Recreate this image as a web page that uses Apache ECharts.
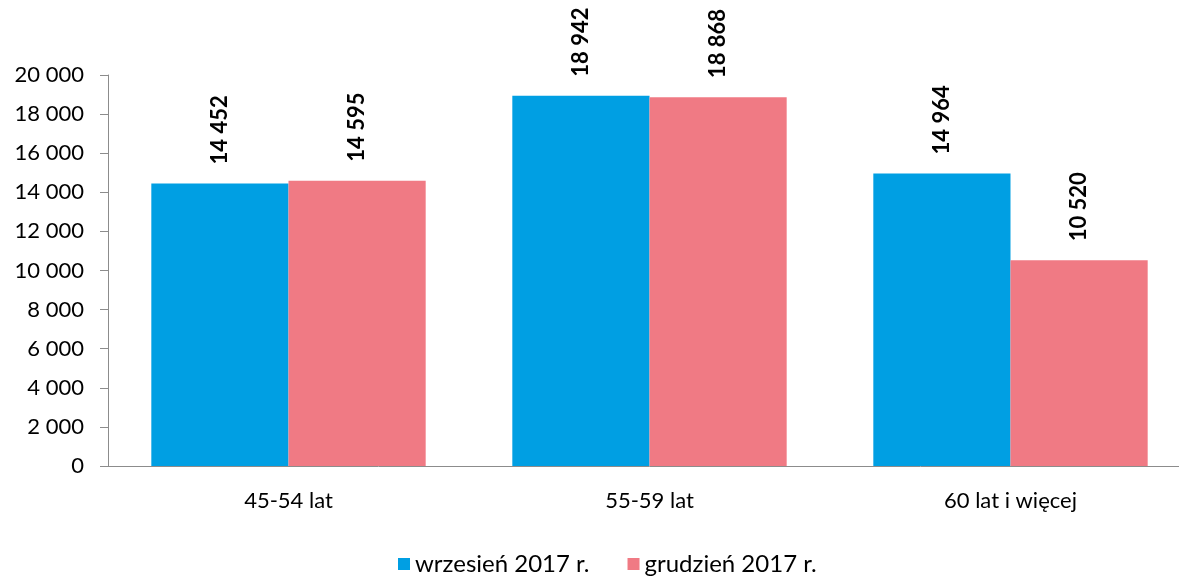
<!DOCTYPE html>
<html>
<head>
<meta charset="utf-8">
<script src="https://cdn.jsdelivr.net/npm/echarts@6/dist/echarts.min.js"></script>
<style>
  html, body { margin: 0; padding: 0; background: #fff; overflow: hidden; }
  /* plot area runs past the right edge of the window, as in the source */
  #chart { width: 1191px; height: 576px; }
</style>
</head>
<body>
<div id="chart"></div>
<script>
var categories = ["45-54 lat", "55-59 lat", "60 lat i więcej"];
var seriesNames = ["wrzesień 2017 r.", "grudzień 2017 r."];
var wrzesien = [14452, 18942, 14964];
var grudzien = [14595, 18868, 10520];

function fmt(v) {
  return String(v).replace(/\B(?=(\d{3})+(?!\d))/g, " ");
}

var chart = echarts.init(document.getElementById("chart"));

var labelStyle = {
  show: true,
  position: "top",
  rotate: 90,
  align: "left",
  verticalAlign: "middle",
  distance: 19,
  color: "#000",
  fontWeight: "bold",
  fontSize: 22,
  fontFamily: "Lato",
  formatter: function (p) { return fmt(p.value); }
};

var option = {
  animation: false,
  textStyle: { fontFamily: "Lato" },
  grid: { left: 108, right: 0, top: 75, bottom: 110 },
  legend: {
    left: 398,
    top: 552,
    padding: 0,
    itemWidth: 12,
    itemHeight: 12,
    itemGap: 38,
    icon: "rect",
    textStyle: { fontSize: 24, color: "#000", fontFamily: "Lato" },
    data: seriesNames
  },
  xAxis: {
    type: "category",
    data: categories,
    axisLine: { lineStyle: { color: "#8c8c8c" } },
    axisTick: { length: 7, lineStyle: { color: "#8c8c8c" } },
    axisLabel: { fontSize: 22, color: "#000", margin: 24 }
  },
  yAxis: {
    type: "value",
    min: 0,
    max: 20000,
    interval: 2000,
    splitLine: { show: false },
    axisLine: { show: true, lineStyle: { color: "#8c8c8c" } },
    axisTick: { show: true, length: 8, lineStyle: { color: "#8c8c8c" } },
    axisLabel: { fontSize: 22, color: "#000", margin: 24, formatter: fmt }
  },
  series: [
    {
      name: seriesNames[0],
      type: "bar",
      data: wrzesien,
      barGap: "0%",
      barCategoryGap: "24%",
      itemStyle: { color: "#009FE3" },
      label: labelStyle
    },
    {
      name: seriesNames[1],
      type: "bar",
      data: grudzien,
      itemStyle: { color: "#F07A84" },
      label: labelStyle
    }
  ]
};

chart.setOption(option);
</script>
</body>
</html>
